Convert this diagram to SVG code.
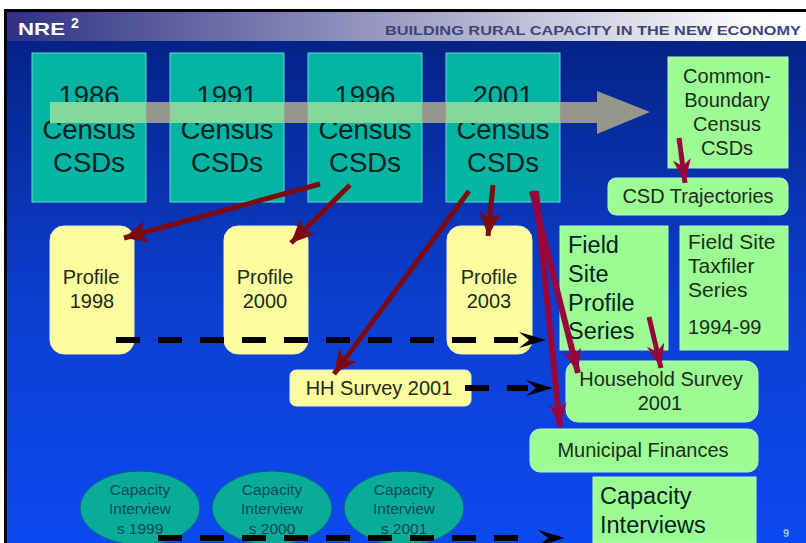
<svg xmlns="http://www.w3.org/2000/svg" width="806" height="543" viewBox="0 0 806 543">
<style>
text{font-family:"Liberation Sans",Arial,sans-serif;fill:#0d2a22;text-anchor:middle}
.census rect{fill:#04b5a3;stroke:#6fd3d8;stroke-width:1}
.green{fill:#9cfd94;stroke:#b9f5c0;stroke-width:1}
.yellow{fill:#fdfc9e;stroke:#eef0c0;stroke-width:1}
.teal{fill:#08ac98;stroke:#0a5f90;stroke-width:1}
.t27{font-size:27.5px;fill:#06221e}
.t24{font-size:23.5px;fill:#06221e}
.t20{font-size:20px;fill:#1c2c18}
.t15{font-size:15.5px;fill:#0a4a58}
.l{text-anchor:start}
.red{stroke:#7c0a0f;fill:none;marker-end:url(#hr)}
.crim{stroke:#99063c;fill:none;marker-end:url(#hc)}
.dash{stroke:#000;stroke-width:6;stroke-dasharray:24 18;fill:none}
.over{fill:#84e09c;fill-opacity:.85}
</style>
<defs>
<linearGradient id="bg" x1="0" y1="0" x2="0" y2="1"><stop offset="0" stop-color="#04207f"/><stop offset=".55" stop-color="#0c3fd0"/><stop offset="1" stop-color="#0c49f0"/></linearGradient>
<linearGradient id="hd" x1="0" y1="0" x2="1" y2="0"><stop offset="0" stop-color="#2f3284"/><stop offset=".5" stop-color="#a0a0c6"/><stop offset=".92" stop-color="#fafafc"/><stop offset="1" stop-color="#ffffff"/></linearGradient>
<marker id="hr" markerUnits="userSpaceOnUse" markerWidth="30" markerHeight="30" refX="24" refY="12" orient="auto"><path d="M0 1 L24 12 L0 23 L7 12Z" fill="#7c0a0f"/></marker>
<marker id="hc" markerUnits="userSpaceOnUse" markerWidth="30" markerHeight="30" refX="24" refY="12" orient="auto"><path d="M0 3 L24 12 L0 21 L7 12Z" fill="#99063c"/></marker>
<path id="open" d="M-27 -8 L0 0 L-27 8 L-17 0Z" fill="#000"/>
</defs>
<rect width="806" height="543" fill="#fff"/>
<rect x="6" y="11" width="800" height="532" fill="url(#bg)"/>
<path d="M5.5 543V10.5H806" fill="none" stroke="#000" stroke-width="3"/>
<rect x="7" y="12" width="799" height="29" fill="url(#hd)"/>
<text x="18" y="35" font-size="17" font-weight="bold" textLength="47" lengthAdjust="spacingAndGlyphs" style="fill:#fff;text-anchor:start">NRE</text>
<text x="71" y="28" font-size="14" font-weight="bold" style="fill:#fff;text-anchor:start">2</text>
<text x="385" y="34.5" font-size="13" font-weight="bold" textLength="416" lengthAdjust="spacingAndGlyphs" style="fill:#3d4578;text-anchor:start">BUILDING RURAL CAPACITY IN THE NEW ECONOMY</text>

<g id="census-1986" class="census"><rect x="32" y="53" width="114" height="149"/><text class="t27" x="89" y="105">1986</text><text class="t27" x="89" y="139">Census</text><text class="t27" x="89" y="172">CSDs</text></g>
<g id="census-1991" class="census"><rect x="170" y="53" width="114" height="149"/><text class="t27" x="227" y="105">1991</text><text class="t27" x="227" y="139">Census</text><text class="t27" x="227" y="172">CSDs</text></g>
<g id="census-1996" class="census"><rect x="308" y="53" width="114" height="149"/><text class="t27" x="365" y="105">1996</text><text class="t27" x="365" y="139">Census</text><text class="t27" x="365" y="172">CSDs</text></g>
<g id="census-2001" class="census"><rect x="446" y="53" width="114" height="149"/><text class="t27" x="503" y="105">2001</text><text class="t27" x="503" y="139">Census</text><text class="t27" x="503" y="172">CSDs</text></g>

<g id="common-boundary"><rect class="green" x="668" y="57" width="120" height="111"/><text class="t20" x="727" y="83">Common-</text><text class="t20" x="727" y="107">Boundary</text><text class="t20" x="727" y="131">Census</text><text class="t20" x="727" y="155">CSDs</text></g>
<g id="csd-trajectories"><rect class="green" x="608" y="178" width="180" height="37" rx="8"/><text class="t20" x="698" y="203">CSD Trajectories</text></g>

<g id="profile-1998"><rect class="yellow" x="50" y="226" width="84" height="128" rx="14"/><text class="t20" x="91" y="284">Profile</text><text class="t20" x="92" y="308">1998</text></g>
<g id="profile-2000"><rect class="yellow" x="224" y="226" width="84" height="128" rx="14"/><text class="t20" x="265" y="284">Profile</text><text class="t20" x="265" y="308">2000</text></g>
<g id="profile-2003"><rect class="yellow" x="447" y="226" width="85" height="128" rx="14"/><text class="t20" x="489" y="284">Profile</text><text class="t20" x="489" y="308">2003</text></g>

<g id="field-site-profile"><rect class="green" x="560" y="226" width="108" height="124"/><text class="t24 l" x="568" y="253">Field</text><text class="t24 l" x="568" y="282">Site</text><text class="t24 l" x="568" y="311">Profile</text><text class="t24 l" x="568" y="339">Series</text></g>
<g id="field-site-taxfiler"><rect class="green" x="680" y="226" width="108" height="124"/><text class="t20 l" style="font-size:21px" x="688" y="249">Field Site</text><text class="t20 l" style="font-size:21px" x="688" y="273">Taxfiler</text><text class="t20 l" style="font-size:21px" x="688" y="297">Series</text><text class="t20 l" x="688" y="334">1994-99</text></g>

<g id="hh-survey"><rect class="yellow" x="290" y="370" width="181" height="36" rx="6"/><text class="t20" x="379" y="395">HH Survey 2001</text></g>
<g id="household-survey"><rect class="green" x="566" y="361" width="192" height="61" rx="12"/><text class="t20" x="661" y="386">Household Survey</text><text class="t20" x="660" y="410">2001</text></g>
<g id="municipal-finances"><rect class="green" x="530" y="429" width="228" height="43" rx="10"/><text class="t20" x="643" y="457">Municipal Finances</text></g>
<g id="capacity-interviews"><rect class="green" x="593" y="477" width="163" height="66"/><text class="t24 l" x="600" y="504">Capacity</text><text class="t24 l" x="600" y="533">Interviews</text></g>

<g id="interviews-1999"><ellipse class="teal" cx="140" cy="508" rx="60" ry="37"/><text class="t15" x="140" y="495">Capacity</text><text class="t15" x="140" y="514">Interview</text><text class="t15" x="140" y="534">s 1999</text></g>
<g id="interviews-2000"><ellipse class="teal" cx="272" cy="508" rx="60" ry="37"/><text class="t15" x="272" y="495">Capacity</text><text class="t15" x="272" y="514">Interview</text><text class="t15" x="272" y="534">s 2000</text></g>
<g id="interviews-2001"><ellipse class="teal" cx="404" cy="508" rx="60" ry="37"/><text class="t15" x="404" y="495">Capacity</text><text class="t15" x="404" y="514">Interview</text><text class="t15" x="404" y="534">s 2001</text></g>

<text x="786" y="537" font-size="11" font-weight="bold" style="fill:#9fc0e8">9</text>

<g id="connectors">
<path d="M50 102H597V91L650 112L597 134V123H50Z" fill="#a39f8c" fill-opacity=".92"/>
<rect class="over" x="50" y="102" width="96" height="21"/>
<rect class="over" x="170" y="102" width="114" height="21"/>
<rect class="over" x="308" y="102" width="114" height="21"/>
<rect class="over" x="446" y="102" width="114" height="21"/>
<path class="dash" d="M116 340H518"/><use href="#open" x="546" y="340"/>
<path class="dash" d="M465 388H528"/><use href="#open" x="553" y="388"/>
<path class="dash" d="M158 538H518"/><use href="#open" x="565" y="538"/>
<path class="red" stroke-width="5" d="M320 184L124 238"/>
<path class="red" stroke-width="5" d="M350 185L291 243"/>
<path class="red" stroke-width="5" d="M469 191L334 374"/>
<path class="red" stroke-width="5" d="M493 185L488 236"/>
<path class="crim" stroke-width="6" d="M532 191L578 373"/>
<path class="crim" stroke-width="6" d="M536 191L560 427"/>
<path class="crim" stroke-width="5" d="M679 138L685 183"/>
<path class="crim" stroke-width="5" d="M649 317L661 368"/>
</g>
</svg>
